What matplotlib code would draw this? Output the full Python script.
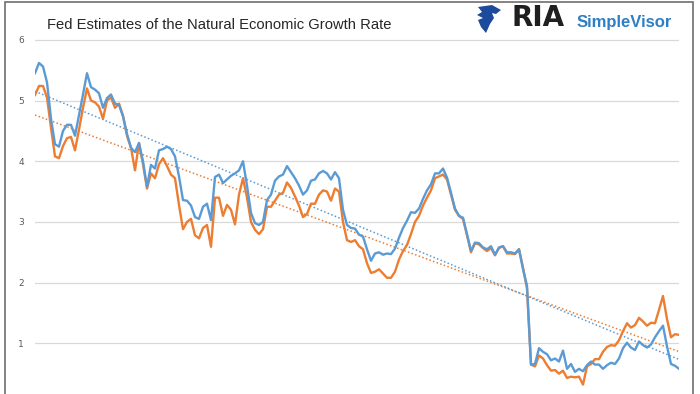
import numpy as np
import matplotlib.pyplot as plt
from matplotlib.patches import Rectangle, Polygon

# estimativas (indice de observacao)
blue = [5.45, 5.62, 5.56, 5.30, 4.70, 4.28, 4.24, 4.50, 4.60, 4.60,
        4.42, 4.76, 5.10, 5.45, 5.22, 5.18, 5.12, 4.88, 5.04, 5.10,
        4.95, 4.93, 4.74, 4.45, 4.22, 4.15, 4.30, 4.00, 3.58, 3.94,
        3.88, 4.18, 4.20, 4.24, 4.20, 4.08, 3.75, 3.36, 3.35, 3.27,
        3.08, 3.05, 3.25, 3.30, 3.03, 3.74, 3.78, 3.64, 3.70, 3.76,
        3.80, 3.85, 4.00, 3.60, 3.15, 2.98, 2.95, 3.00, 3.36, 3.45,
        3.68, 3.75, 3.78, 3.92, 3.82, 3.72, 3.60, 3.45, 3.52, 3.68,
        3.70, 3.80, 3.84, 3.80, 3.70, 3.82, 3.72, 3.20, 2.95, 2.90,
        2.89, 2.79, 2.76, 2.55, 2.36, 2.48, 2.50, 2.46, 2.48, 2.47,
        2.56, 2.74, 2.90, 3.02, 3.16, 3.15, 3.22, 3.38, 3.52, 3.62,
        3.80, 3.80, 3.88, 3.73, 3.48, 3.22, 3.10, 3.07, 2.80, 2.52,
        2.66, 2.65, 2.58, 2.55, 2.60, 2.46, 2.58, 2.60, 2.50, 2.50,
        2.48, 2.55, 2.22, 1.95, 0.65, 0.66, 0.92, 0.86, 0.82, 0.72,
        0.75, 0.70, 0.88, 0.58, 0.66, 0.53, 0.58, 0.54, 0.64, 0.70,
        0.65, 0.65, 0.58, 0.64, 0.68, 0.66, 0.75, 0.92, 1.01, 0.93,
        0.89, 1.03, 0.97, 0.93, 0.98, 1.10, 1.20, 1.29, 0.95, 0.66,
        0.63, 0.58]
orange = [5.09, 5.24, 5.24, 5.05, 4.55, 4.08, 4.05, 4.25, 4.38, 4.40,
          4.18, 4.52, 4.88, 5.20, 5.00, 4.97, 4.90, 4.70, 5.00, 5.05,
          4.88, 4.95, 4.75, 4.42, 4.22, 3.85, 4.30, 3.95, 3.55, 3.80,
          3.72, 3.95, 4.05, 3.92, 3.78, 3.72, 3.28, 2.88, 3.00, 3.05,
          2.78, 2.73, 2.90, 2.95, 2.59, 3.40, 3.40, 3.10, 3.28, 3.20,
          2.96, 3.45, 3.72, 3.40, 3.00, 2.87, 2.80, 2.88, 3.25, 3.25,
          3.35, 3.45, 3.48, 3.65, 3.56, 3.42, 3.27, 3.08, 3.13, 3.30,
          3.30, 3.45, 3.52, 3.50, 3.35, 3.55, 3.50, 3.00, 2.70, 2.67,
          2.70, 2.60, 2.55, 2.32, 2.16, 2.18, 2.22, 2.15, 2.08, 2.08,
          2.18, 2.38, 2.52, 2.62, 2.80, 3.00, 3.10, 3.27, 3.40, 3.52,
          3.72, 3.75, 3.78, 3.70, 3.45, 3.20, 3.10, 3.05, 2.78, 2.50,
          2.65, 2.63, 2.57, 2.52, 2.57, 2.45, 2.57, 2.60, 2.48, 2.48,
          2.47, 2.55, 2.25, 1.90, 0.65, 0.62, 0.80, 0.75, 0.64, 0.55,
          0.56, 0.50, 0.55, 0.43, 0.45, 0.44, 0.45, 0.32, 0.62, 0.66,
          0.74, 0.74, 0.86, 0.94, 0.97, 0.96, 1.05, 1.20, 1.33, 1.26,
          1.30, 1.42, 1.36, 1.29, 1.34, 1.33, 1.55, 1.78, 1.40, 1.10,
          1.15, 1.14]
yticks = [1, 2, 3, 4, 5, 6]
titulo = 'Fed Estimates of the Natural Economic Growth Rate'

cor_azul = '#5b9bd5'
cor_laranja = '#ed7d31'

x = np.arange(len(blue))

fig = plt.figure(figsize=(7, 3.94), dpi=100)
ax = fig.add_axes([35/700, 0, 644/700, 1 - 35/394])

# linhas de tendencia (ajuste linear)
for serie, cor in [(orange, cor_laranja), (blue, cor_azul)]:
    b, a = np.polyfit(x, serie, 1)
    ax.plot(x, a + b*x, color=cor, lw=1.1, ls=(0, (1, 1.5)))

ax.plot(x, orange, color=cor_laranja, lw=1.7)
ax.plot(x, blue, color=cor_azul, lw=1.7)

ax.set_xlim(0, len(blue) - 1)
ax.set_ylim(0.165, 6.08)
ax.set_yticks(yticks)
ax.set_yticklabels([str(t) for t in yticks], fontsize=6.5, color='#595959')
ax.set_xticks([])
ax.tick_params(axis='y', length=0, pad=8)
ax.grid(axis='y', color='#d9d9d9', lw=0.9)
ax.set_axisbelow(True)
for s in ax.spines.values():
    s.set_visible(False)

fig.text(47/700, 1 - 25/394, titulo, fontsize=10.6, family='Liberation Sans',
         color='#262626', va='center', ha='left')

# logo
fig.text(512/700, 1 - 18/394, 'RIA', fontsize=20, fontweight='bold',
         family='DejaVu Sans', color='#1f1f1f', va='center', ha='left')
fig.text(577/700, 1 - 22/394, 'SimpleVisor', fontsize=12, fontweight='bold',
         family='Liberation Sans', color='#2f7fc4', va='center', ha='left')
aguia = [(478, 7), (492, 5), (501, 10), (496, 14), (492, 13), (494, 18),
         (490, 24), (486, 33), (481, 27), (478, 20), (483, 18), (477, 15),
         (482, 12)]
fig.add_artist(Polygon([(px/700, 1 - py/394) for px, py in aguia],
                       closed=True, transform=fig.transFigure,
                       facecolor='#1c4a9c', edgecolor='none'))

fig.add_artist(Rectangle((5/700, -0.05), 688/700, 1.05 - 2/394,
                         transform=fig.transFigure, fill=False,
                         edgecolor='#6e6e6e', lw=1.2))

fig.savefig('out.png', dpi=100)
